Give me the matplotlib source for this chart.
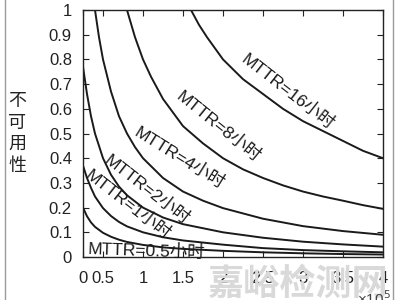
import matplotlib
matplotlib.use("Agg")
import matplotlib.pyplot as plt
from matplotlib.lines import Line2D

# ---------------------------------------------------------------
# Unavailability vs. x (x10^5) for several MTTR values
# values
# ---------------------------------------------------------------
LINE = "#1a1a1a"
FONT = ["Liberation Sans", "Noto Sans CJK SC"]

x16 = [1.5, 1.6, 1.7, 1.8, 2.0, 2.25, 2.5, 2.75, 3.0, 3.25, 3.5, 3.75, 4.0]
u16 = [1.07, 1.0, 0.94, 0.89, 0.80, 0.72, 0.66, 0.60, 0.55, 0.51, 0.47, 0.43, 0.40]

x8 = [0.75, 0.8, 0.9, 1.0, 1.1, 1.25, 1.5, 1.75, 2.0, 2.25, 2.5, 2.75, 3.0, 3.25, 3.5, 3.75, 4.0]
u8 = [1.07, 1.0, 0.89, 0.80, 0.73, 0.64, 0.53, 0.46, 0.40, 0.355, 0.32, 0.29, 0.265, 0.245, 0.228, 0.21, 0.195]

x4 = [0.37, 0.4, 0.45, 0.5, 0.6, 0.7, 0.8, 0.9, 1.0, 1.25, 1.5, 1.75, 2.0, 2.5, 3.0, 3.5, 4.0]
u4 = [1.08, 1.0, 0.89, 0.80, 0.67, 0.57, 0.50, 0.445, 0.40, 0.32, 0.265, 0.228, 0.198, 0.155, 0.125, 0.105, 0.09]

x_low = [0.25, 0.3, 0.35, 0.4, 0.5, 0.6, 0.7, 0.8, 1.0, 1.25, 1.5, 2.0, 2.5, 3.0, 3.5, 4.0]
u2  = [0.77, 0.66, 0.57, 0.50, 0.40, 0.333, 0.285, 0.25, 0.20, 0.16, 0.133, 0.10, 0.078, 0.062, 0.051, 0.042]
u1  = [0.37, 0.32, 0.28, 0.245, 0.198, 0.166, 0.142, 0.124, 0.10, 0.08, 0.067, 0.05, 0.036, 0.028, 0.023, 0.019]
u05 = [0.20, 0.165, 0.14, 0.122, 0.098, 0.082, 0.07, 0.061, 0.049, 0.039, 0.033, 0.025, 0.019, 0.015, 0.012, 0.01]

curve_x = [x16, x8, x4, x_low, x_low, x_low]
curve_u = [u16, u8, u4, u2, u1, u05]
labels = ["MTTR=16小时", "MTTR=8小时", "MTTR=4小时", "MTTR=2小时", "MTTR=1小时", "MTTR=0.5小时"]

# label anchors (data coords) and angles
label_pos = [(2.81, 0.668), (1.94, 0.526), (1.46, 0.40), (1.05, 0.27), (0.81, 0.21), (1.04, 0.026)]
label_rot = [-38, -39, -32, -38, -38, -2]

xticks = [0.25, 0.5, 1, 1.5, 2, 2.5, 3, 3.5, 4]
xtick_labels = ["0", "0.5", "1", "1.5", "2", "2.5", "3", "3.5", "4"]
yticks = [0, 0.1, 0.2, 0.3, 0.4, 0.5, 0.6, 0.7, 0.8, 0.9, 1.0]
ytick_labels = ["0", "0.1", "0.2", "0.3", "0.4", "0.5", "0.6", "0.7", "0.8", "0.9", "1"]

fig = plt.figure(figsize=(4, 3), dpi=100)
fig.patch.set_facecolor("white")

# faint watermark behind everything
fig.text(0.745, 0.053, "嘉峪检测网", fontsize=26, color="#d9d9d9", fontweight="bold",
         ha="center", va="center", family="Noto Sans CJK SC", zorder=0)

ax = fig.add_axes([0.2075, 0.1433, 0.75, 0.8233])
ax.patch.set_alpha(0)

for xs, us in zip(curve_x, curve_u):
    ax.plot(xs, us, color=LINE, linewidth=1.4)

for txt, (lx, ly), rot in zip(labels, label_pos, label_rot):
    ax.text(lx, ly, txt, rotation=rot, rotation_mode="anchor", ha="center", va="center",
            fontsize=12.5, color=LINE, family=FONT)

ax.set_xlim(0.25, 4)
ax.set_ylim(0, 1)
ax.set_xticks(xticks)
ax.set_xticklabels(xtick_labels, family=FONT)
ax.set_yticks(yticks)
ax.set_yticklabels(ytick_labels, family=FONT)
ax.tick_params(direction="in", top=True, right=True, length=4, width=0.8,
               labelsize=12, colors="#222222")
ax.tick_params(axis="x", pad=10)
ax.tick_params(axis="y", pad=8)
for sp in ax.spines.values():
    sp.set_color("#222222")
    sp.set_linewidth(1.0)

# stacked vertical y label
fig.text(0.043, 0.555, "不\n可\n用\n性", fontsize=13, linespacing=1.25,
         ha="center", va="center", family="Noto Sans CJK SC", color="#222222")

# exponent of x axis, partly cut by the bottom edge
fig.text(0.935, 0.035, "×10$^{5}$", fontsize=11, ha="center", va="top",
         family=FONT, color="#444444")

# thin frame lines at left/right of the picture
fig.add_artist(Line2D([0.0125, 0.0125], [0, 1], transform=fig.transFigure, color="#9a9a9a", lw=1))
fig.add_artist(Line2D([0.9825, 0.9825], [0, 1], transform=fig.transFigure, color="#9a9a9a", lw=1))

fig.savefig("out.png", dpi=100)
